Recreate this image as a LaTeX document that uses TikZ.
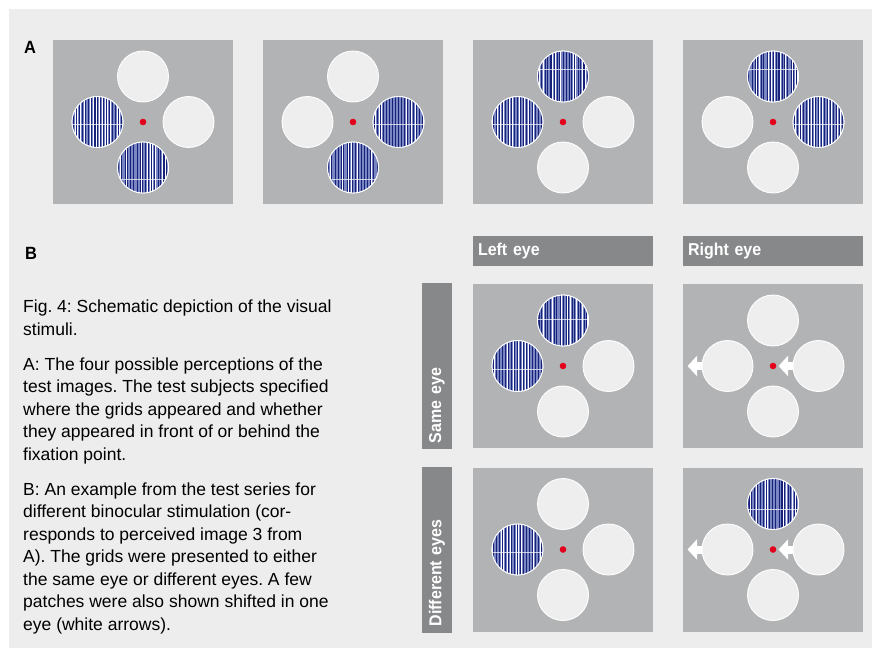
\documentclass[tikz,border=0pt]{standalone}
\usepackage{fontspec}
\setmainfont{Liberation Sans}
\newfontfamily\labfont[FakeStretch=0.93]{Liberation Sans}
\usetikzlibrary{arrows.meta,calc,positioning}

\definecolor{bggray}{RGB}{236,237,236}
\definecolor{panelgray}{RGB}{178,179,180}
\definecolor{discfill}{RGB}{237,238,237}
\definecolor{bargray}{RGB}{135,136,138}
\definecolor{fixred}{RGB}{227,0,27}
\definecolor{gratdark}{RGB}{22,34,122}
\definecolor{gratmid}{RGB}{122,134,194}

\begin{document}
\begin{tikzpicture}[
    x=1pt, y=-1pt,
    panel/.style={
        fill=panelgray,
        minimum width=180pt,
        minimum height=164pt,
        inner sep=0pt
    },
    disc/.style={
        circle,
        draw=white,
        fill=discfill,
        line width=0.9pt,
        minimum size=51pt,
        inner sep=0pt
    },
    grating/.style 2 args={
        path picture={
            \fill[gratmid] (path picture bounding box.south west) rectangle (path picture bounding box.north east);
            \pgfmathsetseed{#1}
            \foreach \k in {0,...,18}{
                \pgfmathsetmacro\gw{0.35+0.9*rnd}
                \pgfmathsetmacro\gx{-28+3*\k+0.8*rnd}
                \fill[gratdark] ([xshift=\gx pt]path picture bounding box.south) rectangle ++(\gw pt,60pt);
                \pgfmathsetmacro\gv{rnd}
                \ifdim\gv pt>0.45pt
                    \fill[white] ([xshift={\gx pt+\gw pt+0.7pt}]path picture bounding box.south) rectangle ++(0.5pt,60pt);
                \fi
            }
            \draw[white, opacity=0.7, line width=0.6pt]
                ([yshift=#2]path picture bounding box.west) -- ([yshift=#2]path picture bounding box.east);
        }
    },
    fixdot/.style={circle, fill=fixred, minimum size=6.6pt, inner sep=0pt},
    bar/.style={
        fill=bargray,
        text=white,
        font=\labfont\bfseries\fontsize{17.2}{20}\selectfont,
        minimum height=30pt,
        text width=#1,
        align=left,
        inner xsep=5pt,
        inner ysep=0pt
    },
    shiftarrow/.style={
        draw=white,
        line width=8pt,
        -{Triangle[length=9.5pt, width=20pt]}
    },
    caption/.style={
        font=\fontsize{17.5}{22.5}\selectfont\frenchspacing,
        align=left,
        inner sep=0pt,
        anchor=base west
    },
    letter/.style={font=\labfont\bfseries\fontsize{17.7}{20}\selectfont, inner sep=0pt, anchor=base west}
]
\useasboundingbox (0,0) rectangle (881,657);
\fill[white] (0,0) rectangle (881,657);
\fill[bggray] (9,9) rectangle (872,648);

% stimulus panels: fixation dot and four patches
\foreach \n/\x/\y in {a1/143/122, a2/353/122, a3/563/122, a4/773/122,
                      b1/563/366, b2/773/366, b3/563/549.5, b4/773/549.5}{
    \node[panel] (\n) at (\x,\y) {};
    \node[fixdot] (\n-dot) at (\n) {};
    \node[disc] (\n-left) at ([xshift=-45.5pt]\n.center) {};
    \node[disc] (\n-right) at ([xshift=45.5pt]\n.center) {};
    \node[disc] (\n-top) at ([yshift=45.5pt]\n.center) {};
    \node[disc] (\n-bottom) at ([yshift=-45.5pt]\n.center) {};
}

% patches showing the grids
\foreach \c/\s/\o in {a1-left/3/-2, a1-bottom/5/-11.5, a2-right/7/-2, a2-bottom/11/-11.5,
                      a3-top/13/7.4, a3-left/17/-2, a4-top/19/7.4, a4-right/23/-2,
                      b1-top/29/1, b1-left/31/-3, b3-left/37/-3, b4-top/41/-5}{
    \node[disc, grating={\s}{\o pt}] (g\c) at (\c) {};
}

% shifted patches (right eye)
\coordinate (b2-tipl) at ([xshift=-14pt]b2-left.west);
\coordinate (b2-tipr) at ([xshift=-14pt]b2-right.west);
\coordinate (b4-tipl) at ([xshift=-14pt]b4-left.west);
\coordinate (b4-tipr) at ([xshift=-14pt]b4-right.west);
\draw[shiftarrow] (b2-left.west) -- (b2-tipl);
\draw[shiftarrow] (b2-right.west) -- (b2-tipr);
\draw[shiftarrow] (b4-left.west) -- (b4-tipl);
\draw[shiftarrow] (b4-right.west) -- (b4-tipr);

% headers
\node[bar=170pt] (lefteye) at (563,251) {Left eye};
\node[bar=170pt] (righteye) at (773,251) {Right eye};
\node[bar=154pt, rotate=90, inner xsep=6pt] (sameeye) at (437,366) {Same eye};
\node[bar=154pt, rotate=90, inner xsep=6pt] (diffeyes) at (437,549.5) {Different eyes};

% panel letters and caption (anchored at the last line)
\node[letter] (labela) at (24,53) {A};
\node[letter] (labelb) at (25,259) {B};
\node[caption] (capfig) at (23,335) {Fig. 4: Schematic depiction of the visual\\stimuli.};
\node[caption] (capa) at (23,460) {A: The four possible perceptions of the\\test images. The test subjects specified\\where the grids appeared and whether\\they appeared in front of or behind the\\fixation point.};
\node[caption] (capb) at (23,630) {B: An example from the test series for\\different binocular stimulation (cor-\\responds to perceived image 3 from\\A). The grids were presented to either\\the same eye or different eyes. A few\\patches were also shown shifted in one\\eye (white arrows).};

\end{tikzpicture}
\end{document}
